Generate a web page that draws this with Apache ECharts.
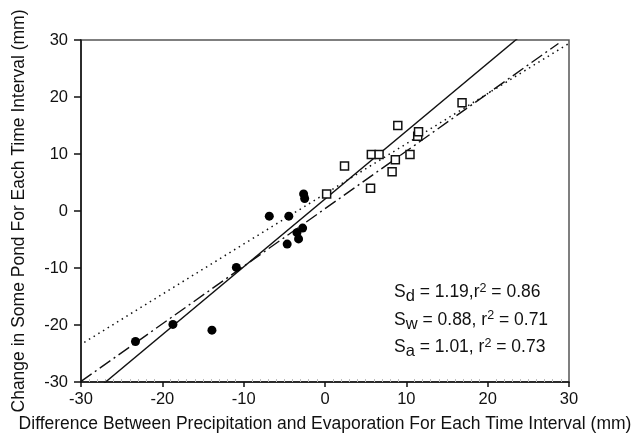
<!DOCTYPE html>
<html>
<head>
<meta charset="utf-8">
<script src="https://cdn.jsdelivr.net/npm/echarts@6/dist/echarts.min.js"></script>
<style>
  html, body { margin: 0; padding: 0; background: #fff; }
  #chart { width: 632px; height: 440px; }
</style>
</head>
<body>
<div id="chart"></div>
<script>
// Dry-period intervals (filled circles)
const dryX = [-23.3, -18.7, -13.9, -10.9, -6.85, -4.45, -4.65, -3.45, -3.25, -2.75, -2.63, -2.5];
const dryY = [-22.9, -19.9, -20.9, -9.9, -0.9, -0.9, -5.8, -3.8, -4.9, -3.0, 3.0, 2.2];

// Wet-period intervals (open squares)
const wetX = [0.2, 2.4, 5.6, 5.7, 6.65, 8.25, 8.65, 8.95, 10.45, 11.4, 11.5, 16.85];
const wetY = [3.0, 7.9, 4.0, 9.9, 9.9, 6.9, 9.0, 15.0, 9.9, 13.1, 13.9, 19.0];

// Fitted lines: dry (solid), wet (dotted), all (dash-dot)
const fitNames = ['dry', 'wet', 'all'];
const fitSlopes = [1.19, 0.88, 1.01];
const fitIntercepts = [2.1, 3.0, 0.4];
const fitStart = [-30, -29.6, -30];
const fitEnd = [30, 30, 28.7];

// Axis ticks
const xTicks = [-30, -20, -10, 0, 10, 20, 30];
const yTicks = [-30, -20, -10, 0, 10, 20, 30];

// Annotation lines: subscript, slope, r²
const statSub = ['d', 'w', 'a'];
const statSlope = ['1.19', '0.88', '1.01'];
const statR2 = ['0.86', '0.71', '0.73'];
const statSep = [',', ', ', ', '];

const FONT = 'Liberation Sans, Arial, sans-serif';

function pairs(xs, ys) { return xs.map((x, i) => [x, ys[i]]); }
function fitLine(i) {
  return [fitStart[i], fitEnd[i]].map(x => [x, fitSlopes[i] * x + fitIntercepts[i]]);
}

const lineStyles = [
  { type: 'solid', width: 1.4 },
  { type: [1.5, 4], width: 1.5 },
  { type: [13, 4, 2, 4], width: 1.4 }
];

const chart = echarts.init(document.getElementById('chart'), null, { renderer: 'canvas' });

const series = [];
fitNames.forEach((n, i) => {
  series.push({
    name: n,
    type: 'line',
    data: fitLine(i),
    showSymbol: false,
    symbol: 'none',
    clip: true,
    silent: true,
    lineStyle: Object.assign({ color: '#111' }, lineStyles[i]),
    z: 2
  });
});
series.push({
  name: 'dry points',
  type: 'scatter',
  data: pairs(dryX, dryY),
  symbol: 'circle',
  symbolSize: 9,
  itemStyle: { color: '#000', opacity: 1 },
  z: 3
});
series.push({
  name: 'wet points',
  type: 'scatter',
  data: pairs(wetX, wetY),
  symbol: 'rect',
  symbolSize: 8,
  itemStyle: { color: '#fff', borderColor: '#111', borderWidth: 1.5, opacity: 1 },
  z: 3
});

const richStyles = {
  b: { fontSize: 17.5, fontFamily: FONT, color: '#111' },
  sub: { fontSize: 16.5, fontFamily: FONT, color: '#111', verticalAlign: 'top', padding: [8, 0, 0, 0] },
  sup: { fontSize: 12.5, fontFamily: FONT, color: '#111', padding: [0, 0, 8, 0] }
};

const statTexts = statSub.map((s, i) => ({
  type: 'text',
  left: 394,
  top: 282 + i * 27.5,
  style: {
    text: '{b|S}{sub|' + s + '}{b| = ' + statSlope[i] + statSep[i] + 'r}{sup|2}{b| = ' + statR2[i] + '}',
    rich: richStyles,
    fill: '#111'
  }
}));

chart.setOption({
  animation: false,
  backgroundColor: '#fff',
  grid: {
    left: 81, right: 63, top: 40, bottom: 58,
    outerBoundsMode: 'none',
    containLabel: false,
    show: true, borderColor: '#555', borderWidth: 1.5, backgroundColor: 'transparent'
  },
  xAxis: [{
    type: 'value', min: xTicks[0], max: xTicks[xTicks.length - 1], interval: 10,
    position: 'bottom',
    name: 'Difference Between Precipitation and Evaporation For Each Time Interval (mm)',
    nameLocation: 'middle', nameGap: 33,
    nameTextStyle: { fontSize: 17.5, fontFamily: FONT, color: '#111' },
    axisLine: { show: true, onZero: false, lineStyle: { color: '#111', width: 1.5 } },
    axisTick: { show: true, inside: false, length: 5, lineStyle: { color: '#111', width: 1.5 } },
    axisLabel: { fontSize: 16.5, fontFamily: FONT, color: '#111', margin: 9 },
    splitLine: { show: false }
  }, {
    type: 'value', min: xTicks[0], max: xTicks[xTicks.length - 1], interval: 10,
    position: 'bottom', gridIndex: 0,
    axisLine: { show: false, onZero: false },
    axisTick: { show: false, inside: true },
    minorTick: { show: true, splitNumber: 10, length: 3, lineStyle: { color: '#bbb', width: 1 } },
    axisLabel: { show: false },
    splitLine: { show: false }
  }],
  yAxis: {
    type: 'value', min: yTicks[0], max: yTicks[yTicks.length - 1], interval: 10,
    name: 'Change in Some Pond For Each Time Interval (mm)',
    nameLocation: 'middle', nameGap: 53,
    nameTextStyle: { fontSize: 17.5, fontFamily: FONT, color: '#111' },
    axisLine: { show: true, onZero: false, lineStyle: { color: '#111', width: 1.5 } },
    axisTick: { show: true, inside: false, length: 7, lineStyle: { color: '#111', width: 1.5 } },
    axisLabel: { fontSize: 16.5, fontFamily: FONT, color: '#111', margin: 13 },
    splitLine: { show: false }
  },
  graphic: statTexts,
  series: series
});
</script>
</body>
</html>
